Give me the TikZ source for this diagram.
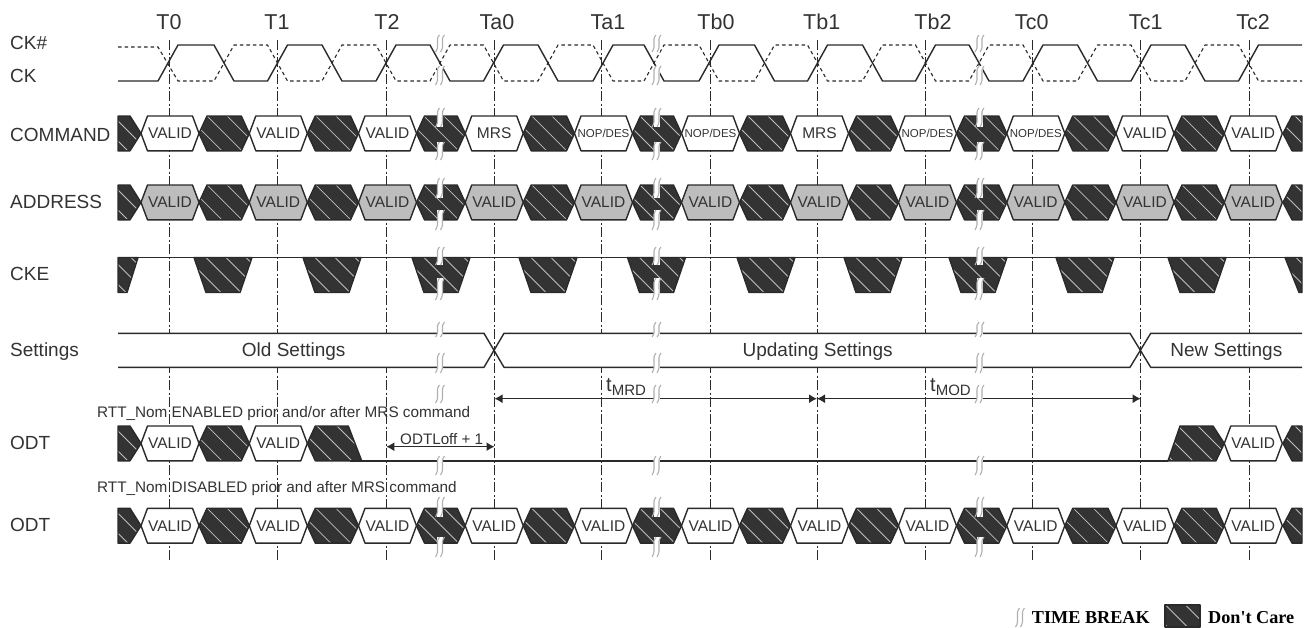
\documentclass[tikz,border=0pt]{standalone}
\usepackage{fontspec}
\setmainfont{Liberation Sans}
\newfontfamily\lgdfont{Liberation Serif}
\usetikzlibrary{arrows.meta}
\definecolor{ink}{HTML}{2A2A2A}
\definecolor{txtc}{HTML}{333333}
\definecolor{dcdark}{HTML}{333333}
\definecolor{dcline}{HTML}{BEBEBE}
\definecolor{addrfill}{HTML}{BDBDBD}
\definecolor{tbgray}{HTML}{B0B0B0}
\tikzset{
  wave/.style={draw=ink,line width=1.4pt,line join=round},
  gridline/.style={draw=ink,line width=1pt,dash pattern=on 10pt off 2.5pt on 2pt off 2.5pt},
  dimline/.style={draw=ink,line width=1.3pt,{Latex[length=8pt,width=9pt]}-{Latex[length=8pt,width=9pt]}},
  txt/.style={inner sep=0pt,text depth=0pt,text=txtc},
  sig/.style={txt,anchor=west,font=\fontsize{19}{19}\selectfont},
  clk/.style={txt,font=\fontsize{21.5}{21.5}\selectfont},
  hexl/.style={txt,font=\fontsize{15.5}{15.5}\selectfont},
  hexs/.style={txt,font=\fontsize{11.5}{11.5}\selectfont},
  note/.style={txt,anchor=west,font=\fontsize{15.3}{15.3}\selectfont},
  lgd/.style={txt,anchor=west,text=black,font=\lgdfont\bfseries\fontsize{18.2}{18.2}\selectfont},
}
% hatched region: #1 path, #2 centre x, #3 top y
\newcommand{\hatched}[3]{%
  \begin{scope}
    \clip #1;
    \fill[dcdark] ({#2-60},{#3-5}) rectangle ({#2+60},{#3+45});
    \foreach \k in {-3,...,3}
      \draw[dcline,line width=.8pt] ({#2+\k*20-19},{#3-2}) -- ({#2+\k*20+19},{#3+36});
  \end{scope}
  \draw[wave] #1;
}
% don't-care hexagon between tips #1 and #2
\newcommand{\dch}[3]{\hatched{(#1,{#3+17.4}) -- ({#1+8},#3) -- ({#2-8},#3) -- (#2,{#3+17.4}) -- ({#2-8},{#3+34.8}) -- ({#1+8},{#3+34.8}) -- cycle}{(#1+#2)/2}{#3}}
% valid hexagon: name, centre, top, fill, style, text
\newcommand{\hex}[6]{%
  \draw[wave,fill=#4] ({#2-29},{#3+17.4}) -- ({#2-22.5},#3) -- ({#2+22.5},#3) -- ({#2+29},{#3+17.4}) -- ({#2+22.5},{#3+34.8}) -- ({#2-22.5},{#3+34.8}) -- cycle;
  \node[#5] (#1) at (#2,{#3+17.4}) {#6};
}
% dark background of a full row
\newcommand{\dcrow}[1]{%
  \hatched{(118,#1) -- (130,#1) -- (141,{#1+17.4}) -- (130,{#1+34.8}) -- (118,{#1+34.8}) -- cycle}{130}{#1}
  \foreach \a/\b in {199/249.3,307.3/358.5,416.5/465.2,523.2/574.5,632.5/681.5,739.5/790.5,848.5/898.5,956.5/1006.8,1064.8/1116,1174/1224.3}
    {\dch{\a}{\b}{#1}}
  \hatched{(1302,#1) -- (1292,#1) -- (1283,{#1+17.4}) -- (1292,{#1+34.8}) -- (1302,{#1+34.8}) -- cycle}{1292}{#1}
}
\newcommand{\tbreak}[3]{%
  \fill[white] ({#1-3},#2) rectangle ({#1+3},#3);
  \foreach \d in {-2.5,2.5}
    \draw[tbgray,line width=1.1pt] ({#1+\d+2},#2) .. controls ({#1+\d-3},{#2+.3*(#3-#2)}) and ({#1+\d+3},{#2+.6*(#3-#2)}) .. ({#1+\d-2},#3);
}
\newcommand{\cke}[1]{\hatched{({#1-29},257.5) -- ({#1+29},257.5) -- ({#1+17},292.5) -- ({#1-17},292.5) -- cycle}{#1}{257.5}}
\begin{document}
\begin{tikzpicture}[x=1pt,y=-1pt]
\fill[white] (0,0) rectangle (1309,627);
\useasboundingbox (0,0) rectangle (1309,627);

% grid
\foreach \x in {169,277.3,386.3,494.5,601.4,710,817,925.8,1032.7,1140.7,1249.3}
  \draw[gridline] (\x,40) -- (\x,562);

% top labels
\foreach \x/\t in {169/T0,277/T1,387/T2,497/Ta0,608/Ta1,716/Tb0,821.7/Tb1,933/Tb2,1031.7/Tc0,1145.7/Tc1,1253/Tc2}
  \node[clk] (lab\t) at (\x,22) {\t};

% side labels
\node[sig] (lCKn) at (10,43) {CK\#};
\node[sig] (lCK) at (10,76) {CK};
\node[sig] (lCMD) at (10,135) {COMMAND};
\node[sig] (lADDR) at (10,201.5) {ADDRESS};
\node[sig] (lCKE) at (10,274) {CKE};
\node[sig] (lSET) at (10,350) {Settings};
\node[sig] (lODTa) at (10,442.7) {ODT};
\node[sig] (lODTb) at (10,525) {ODT};

% clock
\draw[draw=ink,line width=1.1pt,dash pattern=on 3.5pt off 3pt]
 (118,47) -- (158,47) -- (178,81) -- (214,81) -- (234,45) -- (267.5,45) -- (287.5,81) -- (322,81) -- (342,45) -- (376,45) -- (396,81) -- (430,81) -- (450,45) -- (483.5,45) -- (503.5,81) -- (538,81) -- (558,45) -- (593,45) -- (613,81) -- (644,81) -- (664,45) -- (699,45) -- (719,81) -- (754.5,81) -- (774.5,45) -- (807.5,45) -- (827.5,81) -- (862.5,81) -- (882.5,45) -- (915.5,45) -- (935.5,81) -- (969,81) -- (989,45) -- (1023,45) -- (1043,81) -- (1077.5,81) -- (1097.5,45) -- (1131,45) -- (1151,81) -- (1185,81) -- (1205,45) -- (1238.5,45) -- (1258.5,81) -- (1302,81);
\draw[wave]
 (118,81) -- (158,81) -- (178,45) -- (214,45) -- (234,81) -- (267.5,81) -- (287.5,45) -- (322,45) -- (342,81) -- (376,81) -- (396,45) -- (430,45) -- (450,81) -- (483.5,81) -- (503.5,45) -- (538,45) -- (558,81) -- (593,81) -- (613,45) -- (644,45) -- (664,81) -- (699,81) -- (719,45) -- (754.5,45) -- (774.5,81) -- (807.5,81) -- (827.5,45) -- (862.5,45) -- (882.5,81) -- (915.5,81) -- (935.5,45) -- (969,45) -- (989,81) -- (1023,81) -- (1043,45) -- (1077.5,45) -- (1097.5,81) -- (1131,81) -- (1151,45) -- (1185,45) -- (1205,81) -- (1238.5,81) -- (1258.5,45) -- (1302,45);

% COMMAND
\dcrow{116}
\hex{c0}{170}{116}{white}{hexl}{VALID}
\hex{c1}{278.3}{116}{white}{hexl}{VALID}
\hex{c2}{387.5}{116}{white}{hexl}{VALID}
\hex{c3}{494.2}{116}{white}{hexl}{MRS}
\hex{c4}{603.5}{116}{white}{hexs}{NOP/DES}
\hex{c5}{710.5}{116}{white}{hexs}{NOP/DES}
\hex{c6}{819.5}{116}{white}{hexl}{MRS}
\hex{c7}{927.5}{116}{white}{hexs}{NOP/DES}
\hex{c8}{1035.8}{116}{white}{hexs}{NOP/DES}
\hex{c9}{1145}{116}{white}{hexl}{VALID}
\hex{c10}{1253.3}{116}{white}{hexl}{VALID}

% ADDRESS
\dcrow{185}
\foreach \x [count=\i] in {170,278.3,387.5,494.2,603.5,710.5,819.5,927.5,1035.8,1145,1253.3}
  {\hex{a\i}{\x}{185}{addrfill}{hexl}{VALID}}

% CKE
\draw[wave] (118,257.5) -- (1302,257.5);
\hatched{(118,257.5) -- (138,257.5) -- (127,292.5) -- (118,292.5) -- cycle}{128}{257.5}
\foreach \x in {223,332,441,548,656.5,766,873,978,1085,1197}
  {\cke{\x}}
\hatched{(1285,257.5) -- (1302,257.5) -- (1302,292.5) -- (1299,292.5) -- cycle}{1293}{257.5}

% Settings
\fill[white] (118,333.3) -- (484,333.3) -- (494.3,350) -- (484,367.3) -- (118,367.3) -- cycle;
\fill[white] (504,333.3) -- (1130,333.3) -- (1140.5,350) -- (1130,367.3) -- (504,367.3) -- (494.3,350) -- cycle;
\fill[white] (1151,333.3) -- (1302,333.3) -- (1302,367.3) -- (1151,367.3) -- (1140.5,350) -- cycle;
\draw[wave] (118,333.3) -- (484,333.3) -- (504,367.3) -- (1130,367.3) -- (1150.7,333.3) -- (1302,333.3);
\draw[wave] (118,367.3) -- (484,367.3) -- (504,333.3) -- (1130,333.3) -- (1150.7,367.3) -- (1302,367.3);
\node[txt,font=\fontsize{19}{19}\selectfont] (oldset) at (293.7,350) {Old Settings};
\node[txt,font=\fontsize{19}{19}\selectfont] (updset) at (817.6,350) {Updating Settings};
\node[txt,font=\fontsize{19}{19}\selectfont] (newset) at (1226.3,350) {New Settings};

% timing arrows
\coordinate (mrdA) at (494.5,398.7);
\coordinate (mrdB) at (817,398.7);
\coordinate (modB) at (1140.7,398.7);
\draw[dimline] (mrdA) -- (mrdB);
\draw[dimline] (mrdB) -- (modB);
\coordinate (offA) at (386.3,446.7);
\coordinate (offB) at (494.5,446.7);
\draw[dimline] (offA) -- (offB);
\node[txt,anchor=west,font=\fontsize{20}{20}\selectfont] (tmrd) at (606,385) {t\raisebox{-4pt}{\fontsize{15}{15}\selectfont MRD}};
\node[txt,anchor=west,font=\fontsize{20}{20}\selectfont] (tmod) at (930,385) {t\raisebox{-4pt}{\fontsize{15}{15}\selectfont MOD}};
\node[txt,font=\fontsize{15.2}{15.2}\selectfont] (odtoff) at (441.7,439) {ODTLoff + 1};

% ODT (enabled)
\node[note] (rttA) at (97,411.7) {RTT\_Nom ENABLED prior and/or after MRS command};
\hatched{(118,426) -- (130,426) -- (141,443.4) -- (130,460.8) -- (118,460.8) -- cycle}{130}{426}
\dch{199}{249.3}{426}
\hatched{(307.3,443.4) -- (315.3,426) -- (348.3,426) -- (361.7,460.8) -- (315.3,460.8) -- cycle}{334}{426}
\hex{oa0}{170}{426}{white}{hexl}{VALID}
\hex{oa1}{278.3}{426}{white}{hexl}{VALID}
\draw[wave] (350,460.8) -- (1168,460.8);
\hatched{(1168,460.8) -- (1180,426) -- (1213,426) -- (1224.3,443.4) -- (1216,460.8) -- cycle}{1195}{426}
\hex{oa2}{1253.3}{426}{white}{hexl}{VALID}
\hatched{(1302,426) -- (1292,426) -- (1283,443.4) -- (1292,460.8) -- (1302,460.8) -- cycle}{1292}{426}

% ODT (disabled)
\node[note] (rttB) at (97,486.7) {RTT\_Nom DISABLED prior and after MRS command};
\dcrow{508.3}
\foreach \x [count=\i] in {170,278.3,387.5,494.2,603.5,710.5,819.5,927.5,1035.8,1145,1253.3}
  {\hex{b\i}{\x}{508.3}{white}{hexl}{VALID}}

% time breaks
\foreach \x in {440,656.5,979.5}{
  \tbreak{\x}{35}{52}
  \tbreak{\x}{66}{85}
  \tbreak{\x}{108}{127}
  \tbreak{\x}{142}{160}
  \tbreak{\x}{178}{198}
  \tbreak{\x}{210}{230}
  \tbreak{\x}{247}{265}
  \tbreak{\x}{278}{300}
  \tbreak{\x}{322}{337}
  \tbreak{\x}{353}{373}
  \tbreak{\x}{385}{403}
  \tbreak{\x}{456}{475}
  \tbreak{\x}{497}{517}
  \tbreak{\x}{537}{557}
}

% legend
\tbreak{1020}{608}{627}
\node[lgd] (lgdtb) at (1031.7,617) {TIME BREAK};
\hatched{(1165,605) -- (1200,605) -- (1200,627) -- (1165,627) -- cycle}{1182.5}{605}
\node[lgd] (lgddc) at (1208,617) {Don't Care};
\end{tikzpicture}
\end{document}
